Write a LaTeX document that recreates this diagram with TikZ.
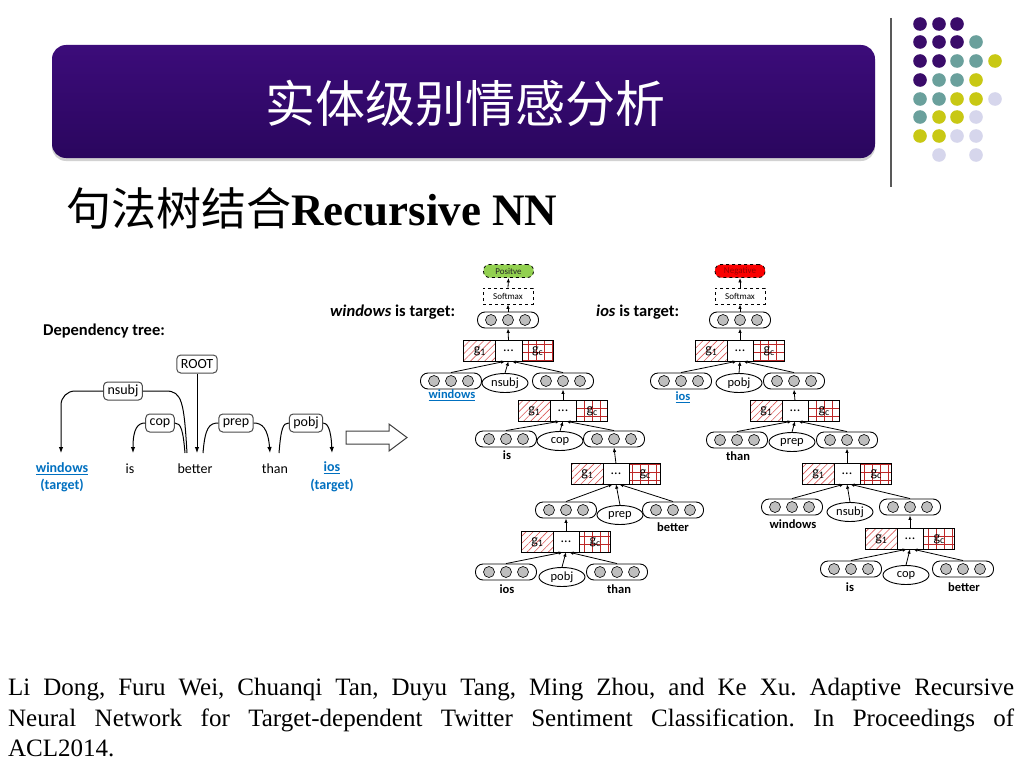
\documentclass[tikz,border=0pt]{standalone}
\usepackage{fontspec}
\setmainfont{Liberation Serif}
\newfontfamily\cjk{Noto Sans CJK SC}
\newfontfamily\diagfont{Carlito}
\usetikzlibrary{shapes.geometric,patterns.meta,arrows.meta,shadows}
\newcommand\fsz[1]{\fontsize{#1}{#1}\selectfont}
\definecolor{dP}{RGB}{58,12,106}
\definecolor{dT}{RGB}{106,160,156}
\definecolor{dY}{RGB}{200,200,20}
\definecolor{dL}{RGB}{214,214,236}
\definecolor{tblue}{RGB}{0,112,192}
\definecolor{dotgray}{RGB}{190,190,190}
\definecolor{posgreen}{RGB}{146,208,80}
\definecolor{negred}{RGB}{250,0,0}
\definecolor{hatchred}{RGB}{220,90,90}
\definecolor{gridred}{RGB}{190,40,40}
\newcommand\gatebox[3]{%
  \node[gatenode] (#1) at (#2,#3) {};
  \path[pattern={Lines[angle=45,distance=5pt,line width=0.6pt]},pattern color=hatchred]
     (#1.south west) rectangle ([xshift=32pt]#1.north west);
  \path[pattern={Hatch[angle=0,distance=8pt,line width=0.8pt]},pattern color=gridred]
     ([xshift=-31pt]#1.south east) rectangle (#1.north east);
  \draw[line width=0.8pt] ([xshift=32pt]#1.south west) -- ([xshift=32pt]#1.north west)
     ([xshift=-31pt]#1.south east) -- ([xshift=-31pt]#1.north east);
  \draw[line width=0.9pt] (#1.south west) rectangle (#1.north east);
  \node[gtext] at ([xshift=16pt]#1.west) {g\textsubscript{1}};
  \node[gtext] at (#1.center) {...};
  \node[gtext] at ([xshift=-15.5pt]#1.east) {g\textsubscript{c}};
}
\begin{document}
\begin{tikzpicture}[x=1pt,y=-1pt,
  depbox/.style={draw=black!70, line width=1pt, rounded corners=4pt, fill=white, inner xsep=4pt, inner ysep=2pt, minimum height=18pt, font=\diagfont\fsz{14}},
  word/.style={font=\diagfont\fsz{14}, inner sep=0pt},
  darr/.style={-{Latex[length=6pt,width=4.5pt]}, line width=1pt},
  tarr/.style={-{Latex[length=4.5pt,width=3.5pt]}, line width=0.8pt},
  vec/.style={draw, line width=0.9pt, rounded corners=7.5pt, minimum width=61pt, minimum height=16pt, inner sep=0pt, fill=white,
     path picture={\foreach \dx in {-17,0,17} {\draw[fill=dotgray, line width=0.6pt] ([xshift=\dx pt]path picture bounding box.center) circle[radius=5.5pt];}}},
  rel/.style={ellipse, draw, line width=0.9pt, minimum width=46pt, minimum height=19pt, inner sep=0pt, fill=white, font=\diagfont\fsz{12.5}},
  gatenode/.style={minimum width=89pt, minimum height=20pt, inner sep=0pt, fill=white},
  gtext/.style={font=\diagfont\fsz{14}, inner sep=0pt},
  lab/.style={font=\diagfont\bfseries\fsz{12.5}, inner sep=0pt},
  softbox/.style={draw, dashed, line width=0.8pt, minimum width=50pt, minimum height=16pt, inner sep=0pt, font=\diagfont\fsz{9}},
  outbox/.style={draw, dashed, line width=0.8pt, rounded corners=6pt, minimum width=50pt, minimum height=13pt, inner sep=0pt, font=\diagfont\fsz{9}},
  head/.style={font=\diagfont\bfseries\fsz{16.5}, inner sep=0pt}
]
\useasboundingbox (0,0) rectangle (1024,768);
\fill[white] (0,0) rectangle (1024,768);

% ---------- title ----------
\node[rounded corners=14pt, top color={rgb,255:red,60;green,12;blue,122}, bottom color={rgb,255:red,42;green,6;blue,94},
      minimum width=823pt, minimum height=113pt, inner sep=0pt,
      drop shadow={shadow xshift=0pt, shadow yshift=-3pt, opacity=0.35}] (titlebox) at (463.5,101.5) {};
\node[text=white, font=\cjk\fsz{50}, inner sep=0pt] (titletext) at (465,103) {实体级别情感分析};

% ---------- decoration ----------
\draw[line width=1.5pt, black!65] (891,18) -- (891,187);
\foreach \x/\y/\cl in {920/24/dP,939/24/dP,957/24/dP,
  920/42/dP,939/42/dP,957/42/dP,976/42/dT,
  920/61/dP,939/61/dP,957/61/dT,976/61/dT,995/61/dY,
  920/80/dP,939/80/dT,957/80/dT,976/80/dY,
  920/99/dT,939/99/dT,957/99/dY,976/99/dY,995/99/dL,
  920/117/dT,939/117/dY,957/117/dY,976/117/dL,
  920/136/dY,939/136/dY,957/136/dL,976/136/dL,
  939/155/dL,976/155/dL}
  {\fill[\cl] (\x,\y) circle[radius=6.8];}

% ---------- subtitle ----------
\node[anchor=west, font=\fsz{45}, inner sep=0pt] (subtitle) at (66,208) {{\cjk 句法树结合}\textbf{Recursive NN}};

% ---------- dependency tree ----------
\node[head] (deptitle) at (104,331) {Dependency tree:};
\node[word, text=tblue, font=\diagfont\bfseries\fsz{14}] (wwin) at (62,469) {\underline{windows}};
\node[word, text=tblue, font=\diagfont\bfseries\fsz{14}] (wtg1) at (62,485) {(target)};
\node[word] (wis) at (130,469) {is};
\node[word] (wbetter) at (195,469) {better};
\node[word] (wthan) at (275,469) {than};
\node[word, text=tblue, font=\diagfont\bfseries\fsz{14}] (wios) at (332,468) {\underline{ios}};
\node[word, text=tblue, font=\diagfont\bfseries\fsz{14}] (wtg2) at (332,485) {(target)};

\node[depbox] (root) at (197,364) {ROOT};
\node[depbox] (nsubj) at (123,391) {nsubj};
\node[depbox] (cop) at (160,423) {cop};
\node[depbox] (prep) at (236,423) {prep};
\node[depbox] (pobj) at (306,423) {pobj};

\coordinate (aWin) at (61,453);
\coordinate (aIs) at (133,453);
\coordinate (aBet) at (195,453);
\coordinate (sBet1) at (187,453);
\coordinate (sBet2) at (185,453);
\coordinate (sBet3) at (203,453);
\coordinate (aThan) at (270,453);
\coordinate (sThan) at (279,453);
\coordinate (aIos) at (332,453);

\draw[darr, rounded corners=14pt] (nsubj.west) -| (aWin);
\draw[line width=1pt] (nsubj.east) -- (166,391) .. controls (182,391) and (184,402) .. (sBet1);
\draw[darr] (cop.west) .. controls (138,423) and (133,428) .. (aIs);
\draw[line width=1pt] (cop.east) .. controls (181,423) and (183,430) .. (sBet2);
\draw[darr] (root.south) -- (root.south |- aBet);
\draw[line width=1pt] (sBet3) .. controls (205,428) and (209,423) .. (prep.west);
\draw[darr] (prep.east) .. controls (262,423) and (268,428) .. (aThan);
\draw[line width=1pt] (sThan) .. controls (281,428) and (283,423) .. (pobj.west);
\draw[darr] (pobj.east) .. controls (327,423) and (331,428) .. (aIos);

% hollow arrow
\draw[line width=1pt, black!75, fill=white] (346,431) -- (389,431) -- (389,424) -- (407,437.5) -- (389,451) -- (389,444) -- (346,444) -- cycle;

% ---------- tree 1 : windows is target ----------
\node[head, anchor=west] (h1) at (330,312) {\textit{windows} is target:};
\node[outbox, fill=posgreen, text=black!85] (pos1) at (508.5,271) {Positve};
\node[softbox] (soft1) at (508,296) {Softmax};
\node[vec] (top1) at (508,320) {};
\gatebox{ga1}{508.5}{351}
\node[vec] (a1L) at (451,381) {};
\node[rel] (r1) at (505,383) {nsubj};
\node[vec] (a1R) at (563,381) {};
\node[lab, text=tblue] (l1) at (452,395) {\underline{windows}};
\gatebox{ga2}{563}{411}
\node[vec] (a2L) at (506,439) {};
\node[rel] (r2) at (560,441) {cop};
\node[vec] (a2R) at (614,439) {};
\node[lab] (l2) at (507,455) {is};
\gatebox{ga3}{616}{474}
\node[vec] (a3L) at (566,510) {};
\node[rel] (r3) at (620,515) {prep};
\node[vec] (a3R) at (673,510) {};
\node[lab] (l3) at (673,527) {better};
\gatebox{ga4}{566}{542}
\node[vec] (a4L) at (506,572) {};
\node[rel] (r4) at (562,577) {pobj};
\node[vec] (a4R) at (617,572) {};
\node[lab] (l4) at (507,589) {ios};
\node[lab] (l5) at (619,589) {than};

\draw[tarr] (soft1.north) -- (pos1.south);
\draw[tarr] (top1.north) -- (soft1.south);
\draw[tarr] (ga1.north) -- (top1.south);
\draw[tarr] (ga2.north) -- (a1R.south);
\draw[tarr] (ga3.north) -- (a2R.south);
\draw[tarr] (ga4.north) -- (a3L.south);
\foreach \g/\l/\r/\R in {ga1/a1L/r1/a1R, ga2/a2L/r2/a2R, ga3/a3L/r3/a3R, ga4/a4L/r4/a4R}{
  \draw[tarr] (\l.north) -- ([xshift=-3pt]\g.south);
  \draw[tarr] (\r.north) -- (\g.south);
  \draw[tarr] (\R.north) -- ([xshift=3pt]\g.south);
}

% ---------- tree 2 : ios is target ----------
\node[head, anchor=west] (h2) at (596,312) {\textit{ios} is target:};
\node[outbox, fill=negred, text={rgb,255:red,150;green,0;blue,0}] (neg2) at (740,271) {Negative};
\node[softbox] (soft2) at (740,296) {Softmax};
\node[vec] (top2) at (740,320) {};
\gatebox{gb1}{740}{351}
\node[vec] (b1L) at (681,381) {};
\node[rel] (s1) at (739,383) {pobj};
\node[vec] (b1R) at (794,381) {};
\node[lab, text=tblue] (m1) at (683,397) {\underline{ios}};
\gatebox{gb2}{795}{411}
\node[vec] (b2L) at (737,440) {};
\node[rel] (s2) at (792,442) {prep};
\node[vec] (b2R) at (847,440) {};
\node[lab] (m2) at (738,456) {than};
\gatebox{gb3}{847}{474}
\node[vec] (b3L) at (792,507) {};
\node[rel] (s3) at (850,512) {nsubj};
\node[vec] (b3R) at (910,507) {};
\node[lab] (m3) at (793,524) {windows};
\gatebox{gb4}{910}{539}
\node[vec] (b4L) at (851,569) {};
\node[rel] (s4) at (906,575) {cop};
\node[vec] (b4R) at (963,569) {};
\node[lab] (m4) at (850,587) {is};
\node[lab] (m5) at (964,587) {better};

\draw[tarr] (soft2.north) -- (neg2.south);
\draw[tarr] (top2.north) -- (soft2.south);
\draw[tarr] (gb1.north) -- (top2.south);
\draw[tarr] (gb2.north) -- (b1R.south);
\draw[tarr] (gb3.north) -- (b2R.south);
\draw[tarr] (gb4.north) -- (b3R.south);
\foreach \g/\l/\r/\R in {gb1/b1L/s1/b1R, gb2/b2L/s2/b2R, gb3/b3L/s3/b3R, gb4/b4L/s4/b4R}{
  \draw[tarr] (\l.north) -- ([xshift=-3pt]\g.south);
  \draw[tarr] (\r.north) -- (\g.south);
  \draw[tarr] (\R.north) -- ([xshift=3pt]\g.south);
}

% ---------- reference ----------
\node[anchor=north west, text width=1006pt, align=justify, inner sep=0pt, font=\fontsize{25}{30.5}\selectfont] (ref) at (8,678)
 {\frenchspacing\hyphenpenalty=10000 Li Dong, Furu Wei, Chuanqi Tan, Duyu Tang, Ming Zhou, and Ke Xu. Adaptive Recursive\linebreak
  Neural Network for Target-dependent Twitter Sentiment Classification. In Proceedings of\linebreak
  ACL2014.};
\end{tikzpicture}
\end{document}
